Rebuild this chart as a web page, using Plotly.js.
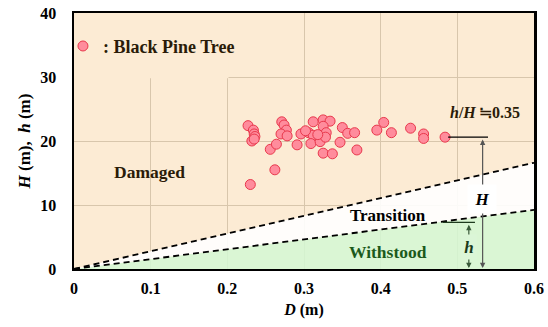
<!DOCTYPE html>
<html>
<head>
<meta charset="utf-8">
<script src="https://cdn.plot.ly/plotly-3.0.1.min.js"></script>
<style>html,body{margin:0;padding:0;background:#fff;}#chart{width:548px;height:327px;}</style>
</head>
<body>
<div id="chart"></div>
<script>
// Black pine trees: trunk diameter D (m) and tree height H (m)
const treeD = [0.227,0.234,0.235,0.236,0.232,0.235,0.256,0.264,0.262,0.230,
  0.271,0.274,0.277,0.270,0.278,0.291,0.296,0.306,0.312,0.325,
  0.334,0.325,0.312,0.309,0.321,0.329,0.328,0.325,0.337,0.347,
  0.350,0.357,0.366,0.369,0.395,0.404,0.414,0.439,0.456,0.456,
  0.484,0.302,0.318];
const treeH = [22.4,21.7,21.1,20.7,20.0,20.3,18.7,19.5,15.5,13.2,
  23.0,22.5,21.7,21.1,20.8,19.4,21.1,21.3,23.0,23.3,
  23.1,22.3,20.9,19.6,19.9,21.3,20.6,18.1,18.0,19.8,
  22.1,21.2,21.3,18.6,21.7,22.9,21.3,22.0,21.1,20.4,
  20.6,21.6,21.0];

// Boundary lines (dashed): upper = damaged/transition, lower = transition/withstood
const boundaryD = [0, 0.6];
const upperBound = [0, 16.6];
const lowerBound = [0, 9.25];

const xTickVals = [0, 0.1, 0.2, 0.3, 0.4, 0.5, 0.6];
const xTickText = ['0', '0.1', '0.2', '0.3', '0.4', '0.5', '0.6'];
const yTickVals = [0, 10, 20, 30, 40];
const yTickText = ['0', '10', '20', '30', '40'];

const serif = 'Liberation Serif';
const peach = '#FCEBD4';
const greenFill = 'rgba(212,248,212,0.85)';
const greenSolid = '#DBF6D7';

const traces = [
  {x: boundaryD, y: lowerBound, mode: 'lines', type: 'scatter', fill: 'tozeroy',
   fillcolor: greenFill, line: {color: '#000', width: 1.8, dash: '6px,4px'},
   showlegend: false, hoverinfo: 'skip'},
  {x: boundaryD, y: upperBound, mode: 'lines', type: 'scatter', fill: 'tonexty',
   fillcolor: 'rgba(255,255,255,0.9)', line: {color: '#000', width: 1.8, dash: '6px,4px'},
   showlegend: false, hoverinfo: 'skip'},
  {x: treeD, y: treeH, mode: 'markers', type: 'scatter', name: ': Black Pine Tree',
   marker: {size: 10, color: '#FF8C9C', line: {color: '#E8384C', width: 1}},
   showlegend: true}
];

const boldFont = (size, color) => ({family: serif, size: size, color: color || '#000', weight: 'bold'});

const layout = {
  width: 548, height: 327,
  margin: {l: 74, r: 14, t: 13, b: 58},
  paper_bgcolor: '#fff',
  plot_bgcolor: peach,
  font: {family: serif},
  showlegend: true,
  legend: {x: -0.024, xanchor: 'left', y: 0.87, yanchor: 'middle',
    bgcolor: 'rgba(0,0,0,0)', borderwidth: 0, font: boldFont(18, '#2A1B08')},
  xaxis: {range: [0, 0.6], tickvals: xTickVals, ticktext: xTickText,
    showgrid: true, gridcolor: '#D8C6AC', gridwidth: 1, zeroline: false,
    showline: true, linecolor: '#000', linewidth: 2, mirror: true,
    ticks: 'outside', ticklen: 4, tickcolor: 'rgba(0,0,0,0)',
    tickfont: boldFont(16), fixedrange: true,
    title: {text: '<i>D</i> (m)', font: boldFont(16), standoff: 8}},
  yaxis: {range: [0, 40], tickvals: yTickVals, ticktext: yTickText,
    showgrid: true, gridcolor: '#D8C6AC', gridwidth: 1, zeroline: false,
    showline: true, linecolor: '#000', linewidth: 2.5, mirror: true,
    ticks: 'outside', ticklen: 12, tickcolor: 'rgba(0,0,0,0)',
    tickfont: boldFont(16), fixedrange: true,
    title: {text: '<i>H</i> (m),  <i>h</i> (m)', font: boldFont(17), standoff: 6}},
  shapes: [
    {type: 'rect', xref: 'x', yref: 'y', x0: 0, x1: 0.2015, y0: 29.8, y1: 40,
     fillcolor: peach, line: {width: 0}, layer: 'between'},
    {type: 'line', xref: 'x', yref: 'y', x0: 0.488, x1: 0.54, y0: 20.6, y1: 20.6,
     line: {color: '#000', width: 1.2}},
    {type: 'line', xref: 'x', yref: 'y', x0: 0.481, x1: 0.523, y0: 7.3, y1: 7.3,
     line: {color: '#1E3A1E', width: 1.2}}
  ],
  annotations: [
    {xref: 'x', yref: 'y', x: 0.533, y: 0.15, ax: 0.533, ay: 20.45, axref: 'x', ayref: 'y',
     text: '', showarrow: true, arrowside: 'end+start', arrowhead: 2, arrowsize: 0.9,
     arrowwidth: 1.2, arrowcolor: '#555'},
    {xref: 'x', yref: 'y', x: 0.515, y: 0.15, ax: 0.515, ay: 7.15, axref: 'x', ayref: 'y',
     text: '', showarrow: true, arrowside: 'end+start', arrowhead: 2, arrowsize: 0.9,
     arrowwidth: 1.2, arrowcolor: '#3A5A3A'},
    {xref: 'x', yref: 'y', x: 0.532, y: 10.9, text: '<i>H</i>', showarrow: false,
     font: boldFont(17), bgcolor: '#fff', width: 26, height: 26},
    {xref: 'x', yref: 'y', x: 0.515, y: 3.4, text: '<i>h</i>', showarrow: false,
     font: boldFont(17, '#1A3A1A'), bgcolor: greenSolid, width: 12, height: 22},
    {xref: 'x', yref: 'y', x: 0.536, y: 24.5, text: '<i>h</i>/<i>H</i>\u2009≒0.35', showarrow: false,
     font: boldFont(16, '#2A1B08')},
    {xref: 'x', yref: 'y', x: 0.098, y: 15.2, text: 'Damaged', showarrow: false,
     font: boldFont(17.5, '#2A1B08')},
    {xref: 'x', yref: 'y', x: 0.41, y: 8.4, text: 'Transition', showarrow: false,
     font: boldFont(17, '#000')},
    {xref: 'x', yref: 'y', x: 0.41, y: 2.65, text: 'Withstood', showarrow: false,
     font: boldFont(17.5, '#1B5A1B')}
  ]
};

Plotly.newPlot('chart', traces, layout, {displayModeBar: false, staticPlot: true});
</script>
</body>
</html>
